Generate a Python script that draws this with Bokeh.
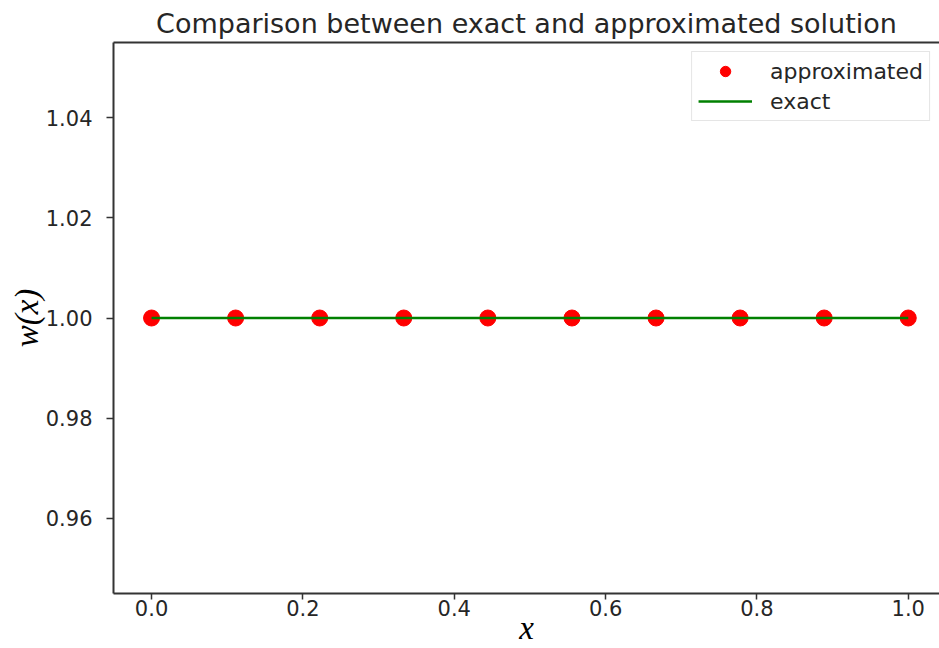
from bokeh.plotting import figure
from bokeh.models import Range1d, FixedTicker, PrintfTickFormatter, LinearAxis, Legend, LegendItem
from bokeh.embed import file_html
from bokeh.resources import INLINE

# Data
x_points = [0.0, 0.1111, 0.2222, 0.3333, 0.4444, 0.5556, 0.6667, 0.7778, 0.8889, 1.0]
w_approx = [1.0, 1.0, 1.0, 1.0, 1.0, 1.0, 1.0, 1.0, 1.0, 1.0]
x_exact = [0.0, 0.1111, 0.2222, 0.3333, 0.4444, 0.5556, 0.6667, 0.7778, 0.8889, 1.0]
w_exact = [1.0, 1.0, 1.0, 1.0, 1.0, 1.0, 1.0, 1.0, 1.0, 1.0]
x_ticks = [0.0, 0.2, 0.4, 0.6, 0.8, 1.0]
y_ticks = [0.96, 0.98, 1.00, 1.02, 1.04]

SPINE = "#333333"
TXT = "#262626"

p = figure(width=939, height=648, output_backend="svg", toolbar_location=None,
           x_range=Range1d(-0.0503, 1.0413), y_range=Range1d(0.945, 1.055),
           title="Comparison between exact and approximated solution",
           min_border_left=113, min_border_right=0, min_border_top=42, min_border_bottom=55)

p.title.text_font = "DejaVu Sans"
p.title.text_font_size = "27px"
p.title.text_font_style = "normal"
p.title.text_color = TXT
p.title.align = "center"
p.title.standoff = 7

p.outline_line_color = None
p.xgrid.visible = False
p.ygrid.visible = False
p.background_fill_color = "white"
p.border_fill_color = "white"

for ax in (p.xaxis[0], p.yaxis[0]):
    ax.axis_line_color = SPINE
    ax.axis_line_width = 2
    ax.major_tick_line_color = SPINE
    ax.major_tick_line_width = 1.5
    ax.major_tick_in = 0
    ax.minor_tick_line_color = None
    ax.major_label_text_font = "DejaVu Sans"
    ax.major_label_text_font_size = "21px"
    ax.major_label_text_color = TXT
    ax.axis_label_text_font = "Liberation Serif"
    ax.axis_label_text_font_style = "italic"
    ax.axis_label_text_font_size = "33px"
    ax.axis_label_text_color = "black"

p.xaxis[0].ticker = FixedTicker(ticks=x_ticks)
p.xaxis[0].formatter = PrintfTickFormatter(format="%.1f")
p.xaxis[0].major_tick_out = 6
p.xaxis[0].major_label_standoff = 0
p.xaxis[0].axis_label = "x"
p.xaxis[0].axis_label_standoff = -9

p.yaxis[0].ticker = FixedTicker(ticks=y_ticks)
p.yaxis[0].formatter = PrintfTickFormatter(format="%.2f")
p.yaxis[0].major_tick_out = 7
p.yaxis[0].major_label_standoff = 14
p.yaxis[0].axis_label = "w(x)"
p.yaxis[0].axis_label_standoff = -2

top = LinearAxis(ticker=FixedTicker(ticks=[]), axis_line_color=SPINE, axis_line_width=2,
                 major_tick_out=0, major_tick_in=0, minor_tick_out=0, minor_tick_in=0,
                 major_label_text_font_size="0px", major_label_standoff=0)
p.add_layout(top, "above")

line = p.line(x_exact, w_exact, line_color="#008000", line_width=2.5)
pts = p.scatter(x_points, w_approx, size=16, fill_color="#ff0000", line_color="#ff0000")
p.renderers.remove(line)
p.renderers.append(line)

legend = Legend(items=[LegendItem(label="approximated", renderers=[pts]),
                       LegendItem(label="exact", renderers=[line])],
                location="top_right")
legend.label_text_font = "DejaVu Sans"
legend.label_text_font_size = "22px"
legend.label_text_color = TXT
legend.glyph_width = 54
legend.glyph_height = 26
legend.label_standoff = 18
legend.spacing = 4
legend.padding = 6
legend.margin = 9
legend.border_line_color = "#cccccc"
legend.border_line_width = 1.5
legend.background_fill_alpha = 1
p.add_layout(legend, "center")

open("out.html", "w").write(file_html(p, INLINE))
